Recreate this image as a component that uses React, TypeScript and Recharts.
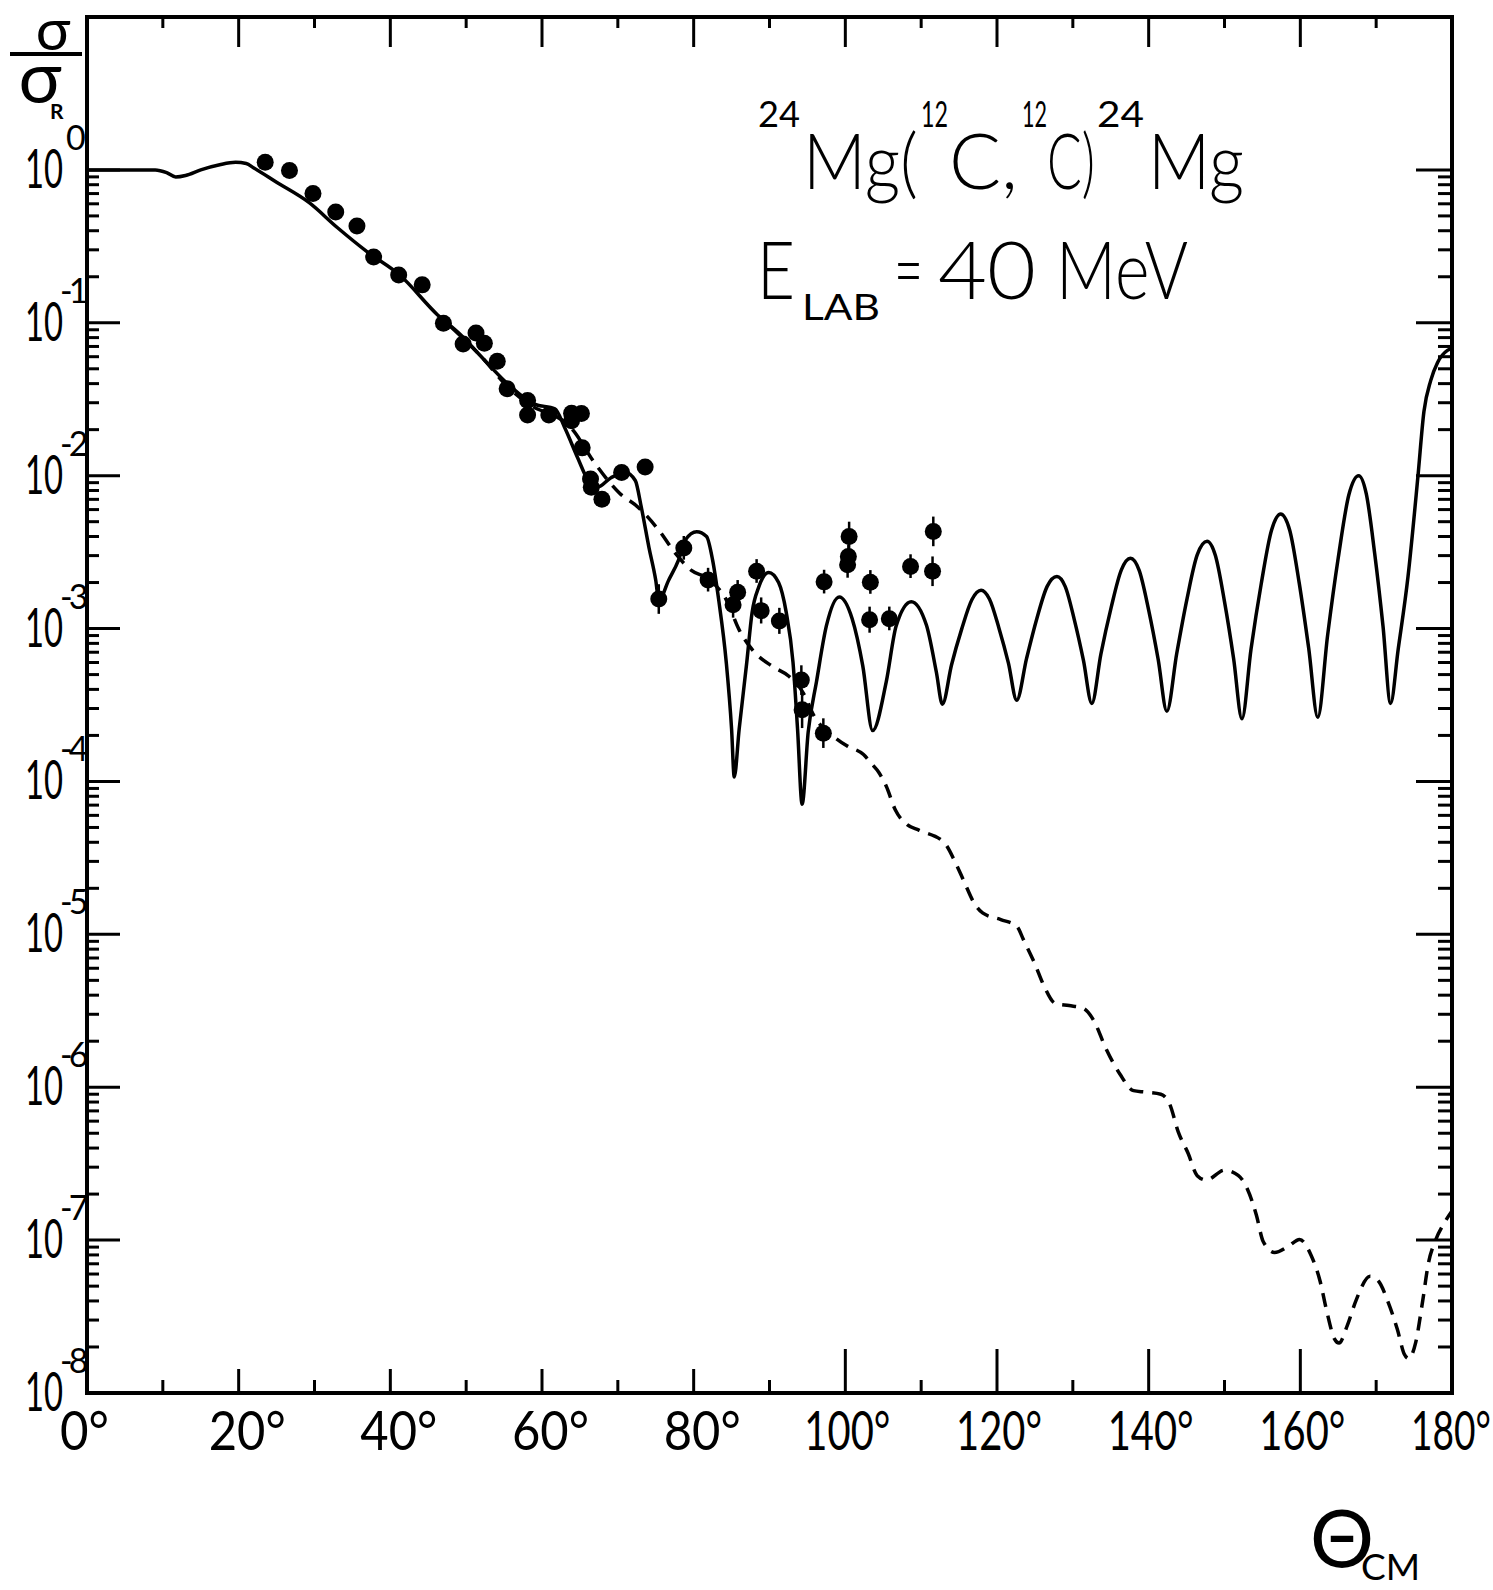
import React from 'react';
import { ComposedChart, Line, Scatter, XAxis, YAxis, ErrorBar } from 'recharts';

// [theta_cm in degrees, sigma / sigma_R]
const solidCurve: [number, number][] = [
  [0, 1.0], [5, 1.0], [9, 1.0], [10.5, 0.96], [11.7, 0.9], [13, 0.92], [15, 1.0], [17.5, 1.08],
  [19.6, 1.12], [21, 1.1], [22, 1.03], [25, 0.83], [29.3, 0.61], [33, 0.42], [37, 0.29], [41.2, 0.206],
  [46.2, 0.113], [49.2, 0.084], [52, 0.06], [55.1, 0.0415], [59, 0.0294], [61.7, 0.0274], [63, 0.0206],
  [64.7, 0.0131], [66.1, 0.0093], [67.3, 0.0084], [69.1, 0.0097], [71, 0.0105], [72.3, 0.0093],
  [73.1, 0.0062], [74.1, 0.0034], [75, 0.00207], [75.4, 0.00153], [76.7, 0.00207], [78, 0.0028],
  [78.9, 0.0038], [80.4, 0.0043], [81.7, 0.004], [82.5, 0.0028], [83.3, 0.00154], [84.3, 0.0006],
  [85, 0.00022], [85.35, 0.000107], [86, 0.00022], [87, 0.0006], [87.7, 0.00127], [88.6, 0.00188],
  [89.9, 0.00233], [91.2, 0.002], [92.2, 0.00128], [93.1, 0.0006], [93.7, 0.00022], [94.3, 0.000071],
  [95.1, 0.00021], [96.2, 0.00045], [97.5, 0.00104], [99.2, 0.00161], [100.9, 0.00116], [102.3, 0.00057],
  [103.6, 0.000215], [105.4, 0.00045], [106.7, 0.00104], [108.7, 0.0015], [110.7, 0.00105], [112, 0.00052],
  [112.8, 0.00032], [114, 0.000578], [115.35, 0.000995], [116.7, 0.00155], [117.9, 0.00178], [119, 0.00156],
  [120.25, 0.00101], [121.5, 0.000596], [122.6, 0.00034], [123.9, 0.000638], [125.25, 0.00116],
  [126.6, 0.00188], [127.9, 0.00219], [129, 0.00188], [130.2, 0.00114], [131.4, 0.000619], [132.5, 0.000324],
  [133.7, 0.00068], [135.05, 0.00137], [136.4, 0.00242], [137.6, 0.00288], [138.75, 0.0024], [140, 0.00132],
  [141.25, 0.00063], [142.4, 0.000288], [143.7, 0.000687], [145.05, 0.00156], [146.4, 0.00303], [147.7, 0.00372],
  [148.8, 0.003], [150, 0.0015], [151.2, 0.000637], [152.3, 0.000257], [153.5, 0.000735], [154.85, 0.00197],
  [156.2, 0.0044], [157.4, 0.00562], [158.6, 0.0044], [159.85, 0.00199], [161.1, 0.000745], [162.3, 0.000263],
  [163.6, 0.000906], [165, 0.0029], [166.4, 0.0075], [167.7, 0.01], [168.7, 0.0076], [169.8, 0.00311],
  [170.9, 0.00104], [171.9, 0.000324], [172.9, 0.00073], [174.2, 0.00219], [175.5, 0.0098], [176.3, 0.0263],
  [177.2, 0.042], [178.1, 0.055], [179.4, 0.066], [180, 0.068],
];

const dashedCurve: [number, number][] = [
  [48, 0.094], [52, 0.06], [55.5, 0.038], [59.4, 0.0273], [61.5, 0.025], [63.8, 0.0206], [67, 0.012],
  [70.2, 0.0077], [72.7, 0.0062], [75.4, 0.0044], [77.6, 0.0031], [79.7, 0.0024], [82, 0.0021],
  [84.3, 0.00154], [86, 0.00098], [87.7, 0.00073], [90.4, 0.000565], [92.6, 0.000486], [94.4, 0.000383],
  [95.9, 0.000267], [98.4, 0.000198], [100.2, 0.000171], [102.4, 0.00015], [103.5, 0.00013], [104.4, 0.000115],
  [105.4, 0.000093], [106.6, 0.000065], [108.2, 0.000052], [109.7, 0.000048], [113, 0.00004], [114.5, 0.0000296],
  [115.7, 0.0000219], [116.9, 0.0000163], [118.1, 0.0000138], [120.5, 0.0000125], [122.6, 0.0000113],
  [123.5, 0.0000092], [125, 0.0000064], [126.2, 0.0000046], [127.7, 0.00000353], [129.5, 0.00000342],
  [131.3, 0.0000033], [132.8, 0.00000271], [134.3, 0.00000182], [136.2, 0.00000122], [138, 9.5e-7],
  [139.5, 9.3e-7], [141.6, 9.0e-7], [142.8, 7.7e-7], [143.9, 5.1e-7], [145.2, 3.7e-7], [146.4, 2.64e-7],
  [147.6, 2.47e-7], [150, 2.87e-7], [151.8, 2.65e-7], [153, 2.17e-7], [154.2, 1.46e-7], [155.1, 9.8e-8],
  [156.6, 8.3e-8], [158.4, 9.1e-8], [159.9, 1.01e-7], [161.4, 8.0e-8], [162.6, 5.4e-8], [163.5, 3.4e-8],
  [164.5, 2.26e-8], [165.1, 2.12e-8], [166.2, 2.77e-8], [167.4, 4.1e-8], [169.2, 5.8e-8], [170.3, 5.4e-8],
  [171.6, 3.9e-8], [172.8, 2.6e-8], [173.7, 1.8e-8], [174.3, 1.68e-8], [175.2, 2.13e-8], [176.1, 3.9e-8],
  [176.9, 7.1e-8], [177.8, 9.9e-8], [179, 1.3e-7], [180, 1.55e-7],
];

// measured points: [theta, sigma/sigma_R, relative error]
const measured: [number, number, number][] = [
  [23.5, 1.12, 0], [26.7, 0.99, 0], [29.8, 0.7, 0], [32.8, 0.53, 0], [35.6, 0.43, 0], [37.8, 0.269, 0],
  [41.1, 0.205, 0], [44.2, 0.177, 0], [47, 0.0993, 0], [49.6, 0.0726, 0], [51.3, 0.0857, 0], [52.4, 0.0734, 0],
  [54.1, 0.056, 0], [55.4, 0.037, 0], [58.1, 0.031, 0], [58.1, 0.0249, 0], [60.9, 0.0249, 0], [63.9, 0.0256, 0],
  [65.2, 0.0255, 0], [63.9, 0.0229, 0], [65.3, 0.0152, 0], [66.4, 0.0095, 0], [66.5, 0.0084, 0], [67.9, 0.007, 0],
  [70.5, 0.0105, 0], [73.6, 0.0114, 0], [75.4, 0.00156, 0.25], [78.7, 0.00336, 0.2], [81.9, 0.00208, 0.2],
  [85.8, 0.00173, 0.2], [85.2, 0.00143, 0.22], [88.3, 0.00237, 0.2], [88.9, 0.00131, 0.22], [91.3, 0.00112, 0.22],
  [94.2, 0.00046, 0.25], [94.3, 0.000294, 0.3], [97.1, 0.000207, 0.25], [97.2, 0.00202, 0.2], [100.5, 0.004, 0.25],
  [100.4, 0.00296, 0.2], [100.3, 0.00261, 0.22], [103.3, 0.00201, 0.2], [103.2, 0.00114, 0.22], [105.8, 0.00116, 0.2],
  [108.6, 0.00255, 0.2], [111.6, 0.00432, 0.25], [111.5, 0.00237, 0.25],
];

const xTicks = [0, 10, 20, 30, 40, 50, 60, 70, 80, 90, 100, 110, 120, 130, 140, 150, 160, 170, 180];
const yDecades = [1e-8, 1e-7, 1e-6, 1e-5, 1e-4, 1e-3, 1e-2, 1e-1, 1];
const yMantissas = [2, 3, 4, 5, 6, 7, 8, 9];
const yTicks = [...yDecades, ...yDecades.slice(0, 8).flatMap((d) => yMantissas.map((m) => m * d))].sort((a, b) => a - b);

const W = 1493;
const H = 1590;
const TOP = 17;
const BOTTOM_AXIS_H = 197;
const PLOT_H = H - BOTTOM_AXIS_H - TOP;
const FONT = 'Lato, "DejaVu Sans", sans-serif';
const frame = { stroke: '#000', strokeWidth: 4, strokeLinecap: 'square' as const };
const X_DOMAIN: [number, number] = [0, 180];
const Y_DOMAIN: [number, number] = [1e-8, 10];

const solidData = solidCurve.map(([d, v]) => ({ d, v }));
const dashedData = dashedCurve.map(([d, v]) => ({ d, v }));
const pointData = measured.map(([d, v, e]) => ({ d, v, err: [v * e * 0.8, v * e] }));

const isDecade = (v: number) => Math.abs(Math.log10(v) - Math.round(Math.log10(v))) < 1e-6;
const isEnd = (v: number) => v === 0 || v === 180;

// text squeezed horizontally to a given width (the original lettering is narrow)
const Fit = ({ x, y, w, sx = 0.75, size, weight = 300, children }: any) => (
  <text transform={`translate(${x} ${y}) scale(${sx} 1)`} fontSize={size} fontWeight={weight}
    fontFamily={FONT} fill="#000" textLength={w / sx} lengthAdjust="spacingAndGlyphs">
    {children}
  </text>
);

const BottomTick = (props: any) => {
  const { x, y, payload } = props;
  const v = payload.value as number;
  const major = v % 20 === 0;
  const len = isEnd(v) ? 0 : !major ? 13 : v <= 80 ? 24 : 44;
  const topLen = isEnd(v) ? 0 : major ? 30 : 11;
  const s = String(v);
  const left = s.length === 1 ? x - 27 : s.length === 2 ? x - 30 : x - 41;
  const tl = s.length === 1 ? 49 : s.length === 2 ? 77 : v === 180 ? 80 : 86;
  return (
    <g>
      {len > 0 && <line x1={x} x2={x} y1={y} y2={y - len} stroke="#000" strokeWidth={3} />}
      {topLen > 0 && <line x1={x} x2={x} y1={y - PLOT_H} y2={y - PLOT_H + topLen} stroke="#000" strokeWidth={3} />}
      {major && <Fit x={left} y={y + 57} w={tl} sx={0.78} size={54} weight={400}>{s}°</Fit>}
    </g>
  );
};

const LeftTick = (props: any) => {
  const { x, y, payload } = props;
  const v = payload.value as number;
  if (!isDecade(v)) return <line x1={x} x2={x + 12} y1={y} y2={y} stroke="#000" strokeWidth={3} />;
  const e = Math.round(Math.log10(v));
  return (
    <g fontFamily={FONT} fontWeight={400} fill="#000">
      {e > -8 && <line x1={x} x2={x + 33} y1={y} y2={y} stroke="#000" strokeWidth={3} />}
      <Fit x={x - 62} y={y + 18} w={38} sx={0.62} size={54} weight={400}>10</Fit>
      {e === 0 ? (
        <text x={x - 21} y={y - 20} fontSize={34}>0</text>
      ) : (
        <text x={x - 27} y={y - 20} fontSize={34}>
          <tspan>-</tspan>
          <tspan dx={-4}>{-e}</tspan>
        </text>
      )}
    </g>
  );
};

const RightTick = (props: any) => {
  const { x, y, payload } = props;
  const v = payload.value as number;
  if (v <= 1e-8 * 1.0001) return <g />;
  const len = isDecade(v) ? 36 : 14;
  return <line x1={x} x2={x - len} y1={y} y2={y} stroke="#000" strokeWidth={3} />;
};

const NoTick = () => <g />;

const Dot = (p: any) => <circle cx={p.cx} cy={p.cy} r={8.5} fill="#000" />;

export default function App() {
  const xCommon = { type: 'number' as const, domain: X_DOMAIN, allowDataOverflow: true, interval: 0 as const, ticks: xTicks, tickSize: 0, tickMargin: 0, tickLine: false, axisLine: frame };
  const yCommon = { type: 'number' as const, scale: 'log' as const, domain: Y_DOMAIN, allowDataOverflow: true, interval: 0 as const, ticks: yTicks, tickSize: 0, tickMargin: 0, tickLine: false, axisLine: frame };
  return (
    <div style={{ position: 'absolute', left: 0, top: 0, width: W, height: H, background: '#fff' }}>
      <ComposedChart width={W} height={H} margin={{ top: TOP - 1, right: 40, bottom: 0, left: 0 }}>
        <XAxis xAxisId="x" dataKey="d" {...xCommon} height={BOTTOM_AXIS_H} tick={<BottomTick />} />
        <XAxis xAxisId="top" orientation="top" {...xCommon} height={1} tick={<NoTick />} />
        <YAxis yAxisId="y" dataKey="v" {...yCommon} width={87} tick={<LeftTick />} />
        <YAxis yAxisId="right" orientation="right" {...yCommon} width={1} tick={<RightTick />} />

        <Line xAxisId="x" yAxisId="y" data={solidData} dataKey="v" type="monotone" stroke="#000" strokeWidth={3.5}
          dot={false} activeDot={false} isAnimationActive={false} />
        <Line xAxisId="x" yAxisId="y" data={dashedData} dataKey="v" type="monotone" stroke="#000" strokeWidth={3.5}
          strokeDasharray="14 9" dot={false} activeDot={false} isAnimationActive={false} />
        <Scatter xAxisId="x" yAxisId="y" data={pointData} dataKey="v" shape={Dot} isAnimationActive={false}>
          <ErrorBar dataKey="err" direction="y" width={0} stroke="#000" strokeWidth={2.5} isAnimationActive={false} />
        </Scatter>
      </ComposedChart>

      <svg width={W} height={H} style={{ position: 'absolute', left: 0, top: 0, pointerEvents: 'none' }}
        fontFamily={FONT} fontWeight={300} fill="#000">
        {/* sigma / sigma_R */}
        <text x={53} y={50} textAnchor="middle" fontSize={58} fontWeight={400}>σ</text>
        <line x1={10} y1={54} x2={82} y2={54} stroke="#000" strokeWidth={4} />
        <text x={40} y={103} textAnchor="middle" fontSize={72} fontWeight={400}>σ</text>
        <text x={50} y={119} fontSize={21} fontWeight={700}>R</text>

        {/* reaction */}
        <Fit x={758} y={127} w={42} sx={0.75} size={36} weight={400}>24</Fit>
        <Fit x={803} y={189} w={115} sx={0.8} size={76}>Mg(</Fit>
        <Fit x={921} y={127} w={27} sx={0.6} size={36} weight={400}>12</Fit>
        <Fit x={949} y={189} w={69} sx={0.85} size={76}>C,</Fit>
        <Fit x={1022} y={127} w={25} sx={0.6} size={36} weight={400}>12</Fit>
        <Fit x={1047} y={189} w={48} sx={0.7} size={76}>C)</Fit>
        <Fit x={1097} y={127} w={47} sx={0.8} size={36} weight={400}>24</Fit>
        <Fit x={1148} y={189} w={96} sx={0.9} size={76}>Mg</Fit>

        {/* beam energy */}
        <Fit x={757} y={299} w={38} sx={0.8} size={80}>E</Fit>
        <Fit x={802} y={320} w={78} sx={0.95} size={36} weight={400}>LAB</Fit>
        <Fit x={894} y={299} w={29} sx={0.8} size={80}>=</Fit>
        <Fit x={938} y={299} w={98} sx={0.95} size={80}>40</Fit>
        <Fit x={1056} y={299} w={132} sx={0.9} size={80}>MeV</Fit>

        {/* theta_cm */}
        <text x={1342} y={1567} textAnchor="middle" fontSize={80} fontWeight={400}>Θ</text>
        <text x={1361} y={1580} fontSize={37} fontWeight={400}>CM</text>
      </svg>
    </div>
  );
}
